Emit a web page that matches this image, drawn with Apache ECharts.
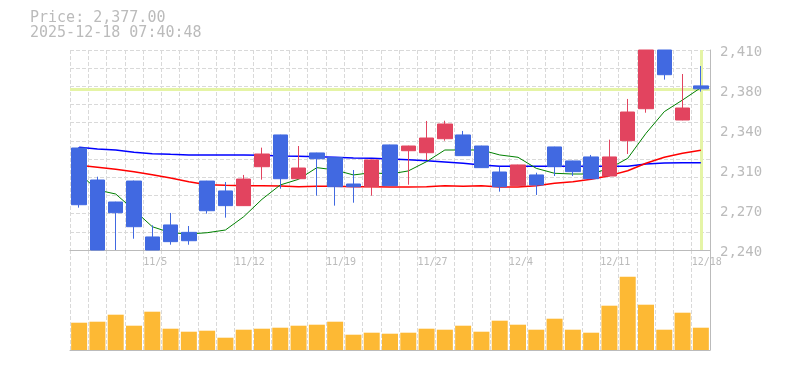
<!DOCTYPE html>
<html><head><meta charset="utf-8">
<script src="https://cdn.jsdelivr.net/npm/echarts@6/dist/echarts.min.js"></script>
<style>html,body{margin:0;padding:0;background:#fff}#c{width:785px;height:370px}</style>
</head><body><div id="c"></div>
<script>
const dates = ['10/29','10/30','10/31','11/4','11/5','11/6','11/7','11/10','11/11','11/12','11/13','11/14','11/17','11/18','11/19','11/20','11/21','11/25','11/26','11/27','11/28','12/1','12/2','12/3','12/4','12/5','12/8','12/9','12/10','12/11','12/12','12/15','12/16','12/17','12/18'];
const openP  = [2326.7,2299.5,2280.8,2298.6,2251.1,2261.3,2255.0,2298.6,2290.2,2277.7,2310.8,2337.8,2300.6,2322.5,2318.5,2296.1,2293.8,2329.3,2324.4,2322.7,2334.6,2337.8,2328.4,2306.3,2294.7,2303.8,2327.6,2315.7,2319.1,2302.9,2332.9,2360.1,2410.0,2350.5,2379.5];
const closeP = [2278.5,2240.0,2271.7,2259.8,2240.0,2247.1,2247.9,2273.4,2277.7,2300.3,2321.6,2300.6,2309.7,2317.6,2293.8,2293.8,2316.5,2294.7,2328.4,2335.2,2347.1,2320.2,2310.0,2293.8,2312.3,2295.3,2310.8,2306.6,2300.6,2319.1,2357.3,2410.0,2389.0,2360.7,2377.0];
const lowP   = [2276.0,2240.0,2240.0,2249.6,2240.0,2244.5,2244.5,2270.9,2267.5,2277.5,2299.8,2292.1,2300.4,2286.2,2277.7,2280.2,2286.2,2294.5,2295.5,2316.5,2332.9,2320.0,2309.8,2289.6,2294.5,2286.8,2302.9,2302.9,2300.4,2302.7,2321.6,2356.7,2384.8,2350.3,2374.6];
const highP  = [2327.5,2302.3,2281.0,2299.0,2261.0,2271.5,2260.4,2298.8,2297.8,2303.8,2327.0,2338.0,2328.4,2322.7,2318.7,2308.0,2316.7,2329.5,2328.6,2349.7,2349.9,2341.2,2328.6,2310.8,2312.5,2305.7,2327.8,2315.9,2320.8,2333.8,2368.4,2410.0,2410.0,2389.6,2396.4];
const volume = [27.3,28.3,35.3,24.3,38.3,21.3,18.3,19.3,12.3,20.3,21.3,22.3,24.3,25.3,28.3,15.3,17.3,16.3,17.3,21.3,20.3,24.3,18.3,29.3,25.3,20.3,31.3,20.3,17.3,44.3,73.3,45.3,20.3,37.3,22.3];
const ma5  = [2305.2,2291.0,2287.6,2274.0,2259.8,2254.7,2253.6,2254.7,2257.0,2268.3,2283.1,2295.3,2300.1,2310.0,2308.0,2303.8,2305.7,2304.6,2307.2,2315.1,2325.0,2325.0,2325.0,2320.8,2318.8,2309.4,2305.2,2304.6,2304.6,2309.4,2317.9,2339.2,2357.6,2367.5,2378.0];
const ma25 = [2312.0,2310.3,2308.6,2306.6,2304.0,2301.2,2298.1,2295.5,2295.0,2294.7,2294.7,2294.4,2293.8,2294.1,2294.1,2293.8,2293.8,2293.6,2293.6,2293.8,2294.7,2294.1,2294.7,2293.6,2293.6,2294.7,2296.7,2298.1,2300.1,2303.2,2307.4,2313.7,2318.8,2322.2,2324.7];
const ma75 = [2327.3,2325.9,2325.0,2323.0,2321.9,2321.3,2320.8,2320.8,2320.8,2320.8,2320.5,2319.9,2319.6,2319.3,2318.8,2318.2,2317.9,2317.4,2316.8,2315.9,2314.8,2313.7,2312.3,2311.1,2311.1,2311.1,2311.1,2311.1,2311.1,2311.1,2311.1,2313.1,2314.0,2314.2,2314.2];
const yTickLabels = ['2,240','2,270','2,310','2,340','2,380','2,410'];
const xTickLabels = ['11/5','11/12','11/19','11/27','12/4','12/11','12/18'];
const currentPrice = 2377;
const titleLines = ['Price: 2,377.00','2025-12-18 07:40:48'];

const RED = '#e2445f', BLUE = '#4169e1', GRID = '#d9d9d9', AXIS = '#bbbbbb', HL = '#e5f4a6';
const candleData = dates.map((d,i)=>[openP[i],closeP[i],lowP[i],highP[i]]);
const boundaries = dates.concat(['']);
const mono = 'DejaVu Sans Mono';
const dashed = {show:true, lineStyle:{color:GRID, type:[4,2], width:1}};

const chart = echarts.init(document.getElementById('c'), null, {renderer:'canvas'});
chart.setOption({
  animation:false,
  backgroundColor:'#fff',
  title:{text:titleLines.join('\n'), left:30, top:11, padding:0,
    textStyle:{fontFamily:mono, fontSize:15, fontWeight:'normal', color:AXIS, lineHeight:15}},
  grid:[
    {left:70, right:75, top:50, height:200},
    {left:70, right:75, top:250, height:100}
  ],
  xAxis:[
    {type:'category', gridIndex:0, data:dates, boundaryGap:true, position:'bottom',
      axisLine:{show:true, lineStyle:{color:AXIS, width:1}}, axisTick:{show:false}, axisLabel:{show:false},
      splitLine:Object.assign({interval:0}, dashed)},
    {type:'category', gridIndex:0, data:boundaries, boundaryGap:false, position:'bottom',
      axisLine:{show:false}, axisTick:{show:false}, splitLine:{show:false},
      axisLabel:{show:true, interval:0, align:'left', margin:7, color:AXIS, fontFamily:mono, fontSize:10,
        formatter:(v)=> xTickLabels.indexOf(v) >= 0 ? v : ''}},
    {type:'category', gridIndex:1, data:dates, boundaryGap:true, position:'bottom',
      axisLine:{show:true, lineStyle:{color:AXIS, width:1}}, axisTick:{show:false}, axisLabel:{show:false},
      splitLine:Object.assign({interval:0}, dashed)}
  ],
  yAxis:[
    {type:'value', gridIndex:0, position:'right', min:2240, max:2410, interval:34,
      axisLine:{show:true, lineStyle:{color:AXIS, width:1}}, axisTick:{show:false}, splitLine:{show:false},
      axisLabel:{show:true, margin:10, color:AXIS, fontFamily:mono, fontSize:14,
        verticalAlign:'top', lineHeight:5,
        formatter:(v)=> yTickLabels[Math.round((v-2240)/34)]}},
    {type:'value', gridIndex:0, position:'left', min:0, max:11, interval:1,
      axisLine:{show:false}, axisTick:{show:false}, axisLabel:{show:false}, splitLine:dashed},
    {type:'value', gridIndex:1, position:'right', min:0, max:100,
      axisLine:{show:true, lineStyle:{color:AXIS, width:1}}, axisTick:{show:false}, axisLabel:{show:false}, splitLine:{show:false}}
  ],
  series:[
    {type:'line', xAxisIndex:0, yAxisIndex:0, data:dates.map(()=>null), z:1, silent:true,
      markLine:{silent:true, z:1, symbol:['none','none'], label:{show:false}, animation:false,
        lineStyle:{color:HL, width:3, type:'solid'},
        data:[{yAxis:currentPrice}, {xAxis:dates[dates.length-1]}]}},
    {type:'line', name:'MA75', xAxisIndex:0, yAxisIndex:0, data:ma75, symbol:'none', z:2,
      lineStyle:{color:'#0000ff', width:1.5}},
    {type:'line', name:'MA25', xAxisIndex:0, yAxisIndex:0, data:ma25, symbol:'none', z:2,
      lineStyle:{color:'#ff0000', width:1.5}},
    {type:'line', name:'MA5', xAxisIndex:0, yAxisIndex:0, data:ma5, symbol:'none', z:2,
      lineStyle:{color:'#008000', width:1}},
    {type:'candlestick', xAxisIndex:0, yAxisIndex:0, data:candleData, barWidth:15, z:3, clip:true,
      itemStyle:{color:RED, color0:BLUE, borderColor:RED, borderColor0:BLUE, borderWidth:1}},
    {type:'bar', xAxisIndex:2, yAxisIndex:2, data:volume, barWidth:16,
      itemStyle:{color:'#fdb934'}}
  ]
});
</script></body></html>
